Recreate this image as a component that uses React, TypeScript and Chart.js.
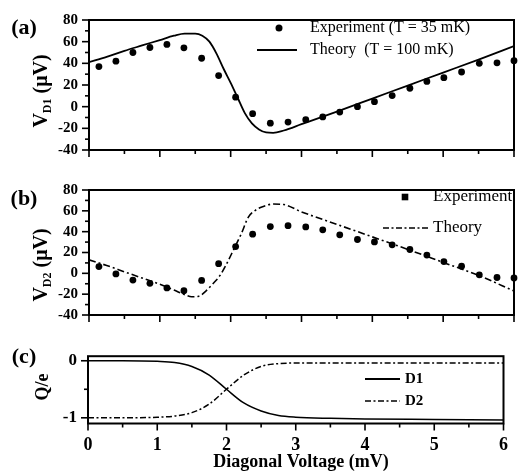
import React, { useEffect, useRef } from "react";
import { Chart, registerables } from "chart.js";
Chart.register(...registerables);

// ---------- data ----------
const expVoltage = [0.14, 0.38, 0.62, 0.86, 1.1, 1.34, 1.59, 1.83, 2.07, 2.31, 2.56, 2.81, 3.06, 3.3, 3.54, 3.79, 4.03, 4.28, 4.53, 4.77, 5.01, 5.26, 5.51, 5.76, 6.0];
const expVD1 = [37, 42, 50, 54.6, 57.5, 54.3, 44.7, 28.7, 8.8, -6.5, -15.2, -14.2, -12, -9.5, -5, 0, 4.6, 10.2, 17, 23.3, 26.8, 32, 40, 40.5, 42.5];
const expVD2 = [6.5, -0.6, -6.5, -9.6, -14, -16.7, -6.8, 9.3, 25.7, 37.6, 44.9, 45.8, 44.6, 41.8, 37, 32.5, 30.2, 27.4, 22.9, 17.5, 11.3, 6.8, -1.4, -4, -4.5];

const theoryVoltageA = [0, 0.25, 0.5, 0.75, 1.0, 1.2, 1.35, 1.5, 1.6, 1.7, 1.8, 1.9, 2.0, 2.1, 2.2, 2.3, 2.4, 2.5, 2.6, 2.75, 3.0, 3.5, 4.0, 4.5, 5.0, 5.5, 6.0];
const theoryVD1 = [41, 46, 51.5, 56.5, 61.5, 65.5, 67.5, 67.5, 65.5, 60, 49, 35, 22, 8, -6, -15.5, -21, -23.8, -24.2, -22, -16.2, -4.5, 7.5, 19.5, 31.5, 43.5, 56];

const theoryVoltageB = [0, 0.25, 0.5, 0.75, 1.0, 1.2, 1.35, 1.45, 1.55, 1.65, 1.75, 1.85, 1.95, 2.05, 2.15, 2.25, 2.35, 2.45, 2.6, 2.75, 3.0, 3.5, 4.0, 4.5, 5.0, 5.5, 6.0];
const theoryVD2 = [13, 7.5, 1.5, -4.5, -10.5, -16, -20.5, -22.5, -22, -17, -10, -2, 10, 24, 38, 54, 60.5, 64, 66.5, 66, 59, 47, 35, 23, 10.5, -2, -17];

const chargeVoltage = [0, 0.5, 1.0, 1.25, 1.5, 1.75, 2.0, 2.25, 2.5, 2.75, 3.0, 3.5, 4.0, 5.0, 6.0];
const chargeD1 = [0, 0, -0.01, -0.03, -0.1, -0.25, -0.5, -0.74, -0.88, -0.96, -0.99, -1.01, -1.02, -1.03, -1.04];
const chargeD2 = [-1, -1, -0.99, -0.97, -0.91, -0.76, -0.5, -0.25, -0.1, -0.05, -0.04, -0.04, -0.04, -0.04, -0.04];

const voltageTicks = [0, 0.5, 1, 1.5, 2, 2.5, 3, 3.5, 4, 4.5, 5, 5.5, 6];
const voltageTickLabels = ["0", "1", "2", "3", "4", "5", "6"];
const vTicks = [-40, -30, -20, -10, 0, 10, 20, 30, 40, 50, 60, 70, 80];
const vTickLabels = [-40, -20, 0, 20, 40, 60, 80];
const qTicks = [-1, -0.5, 0];
const qTickLabels = [-1, 0];

// ---------- styling ----------
const SERIF = '"Liberation Serif", "DejaVu Serif", serif';

type LegendItem = { kind: "dot" | "square" | "solid" | "dashdot"; label: string; x1: number; x2: number; y: number; tx: number };

interface PanelSpec {
  height: number;
  top: number;
  bottom: number;
  left: number;
  right: number;
  yMin: number;
  yMax: number;
  yTicks: number[];
  yMajor: number[];
  yFont: number;
  showXLabels: boolean;
  datasets: any[];
  panelLabel: { text: string; x: number; y: number };
  yTitle: { main: string; sub: string; rest: string; cx: number; cy: number; size: number };
  legend: LegendItem[];
  legendFont: string;
  xTitle?: { text: string; x: number; y: number };
}

const pts = (xs: number[], ys: number[]) => xs.map((x, i) => ({ x, y: ys[i] }));

function decoPlugin(spec: PanelSpec) {
  return {
    id: "deco",
    afterDraw(chart: any) {
      const ctx: CanvasRenderingContext2D = chart.ctx;
      const a = chart.chartArea;
      ctx.save();
      ctx.strokeStyle = "#000";
      ctx.fillStyle = "#000";
      // frame
      ctx.lineWidth = 2;
      ctx.strokeRect(a.left, a.top, a.right - a.left, a.bottom - a.top);
      // ticks
      ctx.lineWidth = 1.6;
      const xs = chart.scales.x;
      xs.ticks.forEach((t: any) => {
        const px = xs.getPixelForValue(t.value);
        const len = Number.isInteger(t.value) ? 7 : 4;
        ctx.beginPath();
        ctx.moveTo(px, a.bottom);
        ctx.lineTo(px, a.bottom + len);
        ctx.stroke();
      });
      const ys = chart.scales.y;
      ys.ticks.forEach((t: any) => {
        const py = ys.getPixelForValue(t.value);
        const len = spec.yMajor.includes(t.value) ? 7 : 4;
        ctx.beginPath();
        ctx.moveTo(a.left - len, py);
        ctx.lineTo(a.left, py);
        ctx.stroke();
      });
      // panel label
      ctx.font = `bold 22px ${SERIF}`;
      ctx.textAlign = "center";
      ctx.textBaseline = "middle";
      ctx.fillText(spec.panelLabel.text, spec.panelLabel.x, spec.panelLabel.y);
      // y title (rotated, with subscript)
      const t = spec.yTitle;
      ctx.save();
      ctx.translate(t.cx, t.cy);
      ctx.rotate(-Math.PI / 2);
      ctx.textAlign = "left";
      ctx.textBaseline = "alphabetic";
      const mainFont = `bold ${t.size}px ${SERIF}`;
      const subFont = `bold ${Math.round(t.size * 0.6)}px ${SERIF}`;
      ctx.font = mainFont;
      const w1 = ctx.measureText(t.main).width;
      const w3 = ctx.measureText(t.rest).width;
      ctx.font = subFont;
      const w2 = ctx.measureText(t.sub).width;
      let x = -(w1 + w2 + w3) / 2;
      const base = t.size * 0.35;
      ctx.font = mainFont;
      ctx.fillText(t.main, x, base);
      x += w1;
      ctx.font = subFont;
      ctx.fillText(t.sub, x, base + t.size * 0.22);
      x += w2;
      ctx.font = mainFont;
      ctx.fillText(t.rest, x, base);
      ctx.restore();
      // legend
      spec.legend.forEach((it) => {
        ctx.save();
        ctx.lineWidth = 1.8;
        if (it.kind === "dot") {
          ctx.beginPath();
          ctx.arc((it.x1 + it.x2) / 2, it.y, 3.5, 0, Math.PI * 2);
          ctx.fill();
        } else if (it.kind === "square") {
          const cx = (it.x1 + it.x2) / 2;
          ctx.fillRect(cx - 3.3, it.y - 3.3, 6.6, 6.6);
        } else {
          if (it.kind === "dashdot") {
            ctx.setLineDash([6, 2.5, 2, 2.5]);
            ctx.lineWidth = 1.5;
          }
          ctx.beginPath();
          ctx.moveTo(it.x1, it.y);
          ctx.lineTo(it.x2, it.y);
          ctx.stroke();
        }
        ctx.restore();
        ctx.font = spec.legendFont;
        ctx.textAlign = "left";
        ctx.textBaseline = "middle";
        ctx.fillText(it.label, it.tx, it.y);
      });
      // x title
      if (spec.xTitle) {
        ctx.font = `bold 18px ${SERIF}`;
        ctx.textAlign = "center";
        ctx.textBaseline = "middle";
        ctx.fillText(spec.xTitle.text, spec.xTitle.x, spec.xTitle.y);
      }
      ctx.restore();
    },
  };
}

function buildConfig(spec: PanelSpec): any {
  return {
    type: "line",
    data: { datasets: spec.datasets },
    options: {
      animation: false,
      responsive: false,
      devicePixelRatio: 1,
      layout: { padding: { top: spec.top, right: 519 - spec.right, left: 0, bottom: 0 } },
      plugins: { legend: { display: false }, tooltip: { enabled: false } },
      scales: {
        x: {
          type: "linear",
          min: 0,
          max: 6,
          afterBuildTicks: (s: any) => {
            s.ticks = voltageTicks.map((v) => ({ value: v }));
          },
          afterFit: (s: any) => {
            s.height = spec.height - spec.bottom;
          },
          grid: { display: false, drawTicks: false },
          border: { display: false },
          ticks: {
            display: spec.showXLabels,
            autoSkip: false,
            maxRotation: 0,
            padding: 11,
            color: "#000",
            font: { family: SERIF, size: 18, weight: "bold" },
            callback: (v: number) => (Number.isInteger(v) ? voltageTickLabels[v] : ""),
          },
        },
        y: {
          type: "linear",
          min: spec.yMin,
          max: spec.yMax,
          afterBuildTicks: (s: any) => {
            s.ticks = spec.yTicks.map((v) => ({ value: v }));
          },
          afterFit: (s: any) => {
            s.width = spec.left;
          },
          grid: { display: false, drawTicks: false },
          border: { display: false },
          ticks: {
            autoSkip: false,
            padding: 11,
            color: "#000",
            font: { family: SERIF, size: spec.yFont, weight: "bold" },
            callback: (v: number) => (spec.yMajor.includes(v) ? String(v) : ""),
          },
        },
      },
    },
    plugins: [decoPlugin(spec)],
  };
}

const expStyle = {
  showLine: false,
  pointRadius: 3.4,
  pointBackgroundColor: "#000",
  pointBorderWidth: 0,
  borderColor: "#000",
  clip: false,
};
const lineStyle = {
  pointRadius: 0,
  borderColor: "#000",
  borderWidth: 1.8,
  cubicInterpolationMode: "monotone",
  fill: false,
};

const specA: PanelSpec = {
  height: 170,
  top: 16,
  bottom: 157,
  left: 89,
  right: 514,
  yMin: -40,
  yMax: 80,
  yTicks: vTicks,
  yMajor: vTickLabels,
  yFont: 15,
  showXLabels: false,
  datasets: [
    { label: "Experiment (T = 35 mK)", data: pts(expVoltage, expVD1), ...expStyle },
    { label: "Theory  (T = 100 mK)", data: pts(theoryVoltageA, theoryVD1), ...lineStyle },
  ],
  panelLabel: { text: "(a)", x: 24, y: 28 },
  yTitle: { main: "V", sub: "D1", rest: " (μV)", cx: 40, cy: 91, size: 20 },
  legend: [
    { kind: "dot", label: "Experiment (T = 35 mK)", x1: 272, x2: 286, y: 28, tx: 310 },
    { kind: "solid", label: "Theory  (T = 100 mK)", x1: 257, x2: 297, y: 50, tx: 310 },
  ],
  legendFont: `16px ${SERIF}`,
};

const specB: PanelSpec = {
  height: 165,
  top: 12,
  bottom: 155,
  left: 89,
  right: 514,
  yMin: -40,
  yMax: 80,
  yTicks: vTicks,
  yMajor: vTickLabels,
  yFont: 15,
  showXLabels: false,
  datasets: [
    { label: "Experiment", data: pts(expVoltage, expVD2), ...expStyle },
    { label: "Theory", data: pts(theoryVoltageB, theoryVD2), ...lineStyle, borderWidth: 1.6, borderDash: [7, 3, 2, 3] },
  ],
  panelLabel: { text: "(b)", x: 24, y: 29 },
  yTitle: { main: "V", sub: "D2", rest: " (μV)", cx: 40, cy: 95, size: 20 },
  legend: [
    { kind: "square", label: "Experiment", x1: 398, x2: 412, y: 27, tx: 433 },
    { kind: "dashdot", label: "Theory", x1: 383, x2: 428, y: 58, tx: 433 },
  ],
  legendFont: `17px ${SERIF}`,
};

const specC: PanelSpec = {
  height: 138,
  top: 17,
  bottom: 88.5,
  left: 88,
  right: 514,
  yMin: -1.1,
  yMax: 0.08,
  yTicks: qTicks,
  yMajor: qTickLabels,
  yFont: 17,
  showXLabels: true,
  datasets: [
    { label: "D1", data: pts(chargeVoltage, chargeD1), ...lineStyle, borderWidth: 1.5 },
    { label: "D2", data: pts(chargeVoltage, chargeD2), ...lineStyle, borderWidth: 1.5, borderDash: [6, 2.5, 2, 2.5] },
  ],
  panelLabel: { text: "(c)", x: 24, y: 22 },
  yTitle: { main: "Q/e", sub: "", rest: "", cx: 42, cy: 52, size: 18 },
  legend: [
    { kind: "solid", label: "D1", x1: 365, x2: 400, y: 44, tx: 405 },
    { kind: "dashdot", label: "D2", x1: 365, x2: 400, y: 66, tx: 405 },
  ],
  legendFont: `bold 15px ${SERIF}`,
  xTitle: { text: "Diagonal Voltage (mV)", x: 301, y: 127 },
};

export default function App() {
  const refA = useRef<HTMLCanvasElement>(null);
  const refB = useRef<HTMLCanvasElement>(null);
  const refC = useRef<HTMLCanvasElement>(null);

  useEffect(() => {
    const charts = [
      new Chart(refA.current!, buildConfig(specA)),
      new Chart(refB.current!, buildConfig(specB)),
      new Chart(refC.current!, buildConfig(specC)),
    ];
    return () => charts.forEach((c) => c.destroy());
  }, []);

  const cs = (top: number, h: number): React.CSSProperties => ({ position: "absolute", left: 0, top, width: 519, height: h });

  return (
    <div style={{ position: "absolute", left: 0, top: 0, width: 519, height: 473, background: "#fff" }}>
      <canvas ref={refA} width={519} height={170} style={cs(0, 170)} />
      <canvas ref={refB} width={519} height={165} style={cs(170, 165)} />
      <canvas ref={refC} width={519} height={138} style={cs(335, 138)} />
    </div>
  );
}
